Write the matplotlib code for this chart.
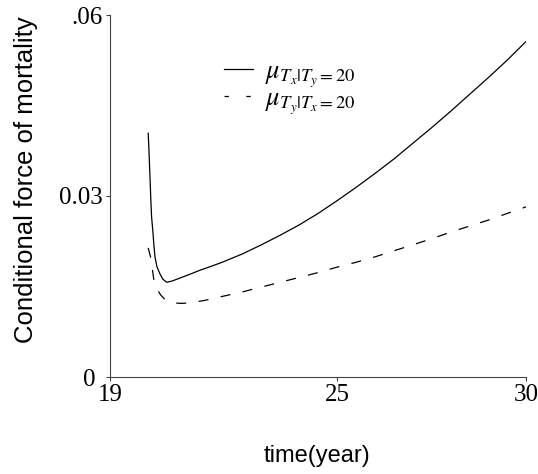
import numpy as np
import matplotlib
matplotlib.use('Agg')
import matplotlib.pyplot as plt
import matplotlib.transforms as mtransforms
from matplotlib.lines import Line2D

# values (time in years, force of mortality)
t_x = [20.01, 20.03, 20.045, 20.06, 20.08, 20.10, 20.13, 20.16, 20.19, 20.24, 20.32, 20.40,
       20.50, 20.64, 20.85, 21.10, 21.38, 21.70, 22.0, 22.5, 23.0, 23.5, 24.0, 24.5, 25.0,
       25.5, 26.0, 26.5, 27.0, 27.5, 28.0, 28.5, 29.0, 29.5, 30.0]
mu_x = [0.0404, 0.0376, 0.0351, 0.0327, 0.0293, 0.0265, 0.0244, 0.0219, 0.0199, 0.0183, 0.0171, 0.0162,
        0.0157, 0.0159, 0.0164, 0.0170, 0.0177, 0.0184, 0.0191, 0.0204, 0.0219, 0.0235, 0.0252, 0.0271, 0.0292,
        0.0314, 0.0337, 0.0361, 0.0387, 0.0413, 0.0440, 0.0468, 0.0496, 0.0525, 0.0556]

t_y = [20.01, 20.08, 20.13, 20.16, 20.24, 20.34, 20.46, 20.64, 20.88, 21.12, 21.51,
       22.0, 22.5, 23.0, 23.5, 24.0, 24.5, 25.0, 25.5, 26.0, 26.5, 27.0, 27.5, 28.0,
       28.5, 29.0, 29.5, 30.0]
mu_y = [0.0214, 0.0197, 0.0174, 0.0161, 0.0146, 0.0136, 0.0128, 0.0123, 0.0122, 0.0123, 0.0127,
        0.0134, 0.0141, 0.0149, 0.0157, 0.0165, 0.0173, 0.0182, 0.0190, 0.0199, 0.0209, 0.0219, 0.0229, 0.0240,
        0.0250, 0.0260, 0.0271, 0.0282]

x_ticks = [19, 25, 30]
y_ticks = [0, 0.03, 0.06]
y_ticklabels = ['0', '0.03', '.06']
labels = [r'$\mu_{T_x|T_y\mathrm{=20}}$', r'$\mu_{T_y|T_x\mathrm{=20}}$']

plt.rcParams['mathtext.fontset'] = 'stix'

fig = plt.figure(figsize=(5.38, 4.74), dpi=100)
ax = fig.add_axes([110 / 538, 1 - 377 / 474, 416 / 538, 362 / 474])

ax.plot(t_x, mu_x, color='k', lw=0.9)
ax.plot(t_y, mu_y, color='k', lw=0.9, dashes=[8, 10])

ax.set_xlim(19, 30)
ax.set_ylim(0, 0.06)
ax.set_xticks(x_ticks)
ax.set_xticklabels([str(v) for v in x_ticks])
ax.set_yticks(y_ticks)
ax.set_yticklabels(y_ticklabels)

for lab in ax.get_xticklabels() + ax.get_yticklabels():
    lab.set_family('Liberation Serif')
    lab.set_fontsize(18)
ax.tick_params(direction='out', length=3, width=0.8, color='#444444', pad=2)

# the "0" sits a bit further left in the reference
zero_lab = ax.get_yticklabels()[0]
zero_lab.set_transform(zero_lab.get_transform() +
                       mtransforms.ScaledTranslation(-8 / 100, 0, fig.dpi_scale_trans))

ax.spines['top'].set_visible(False)
ax.spines['right'].set_visible(False)
for s in ['left', 'bottom']:
    ax.spines[s].set_color('#444444')
    ax.spines[s].set_linewidth(0.8)

handles = [Line2D([0], [0], color='k', lw=0.9),
           Line2D([0], [0], color='k', lw=0.9, dashes=[3.5, 14])]
ax.legend(handles, labels, frameon=False, fontsize=19, loc='upper left',
          bbox_to_anchor=(0.275, 0.88), handlelength=1.1, handletextpad=0.45,
          labelspacing=-0.15, borderaxespad=0, borderpad=0)

fig.text(26 / 538, 1 - 180 / 474, 'Conditional force of mortality', rotation=90,
         ha='center', va='center', family='Liberation Sans', fontsize=18.5)
fig.text(317 / 538, 1 - 456 / 474, 'time(year)', ha='center', va='center',
         family='Liberation Sans', fontsize=17)

fig.savefig('out.png', dpi=100)
